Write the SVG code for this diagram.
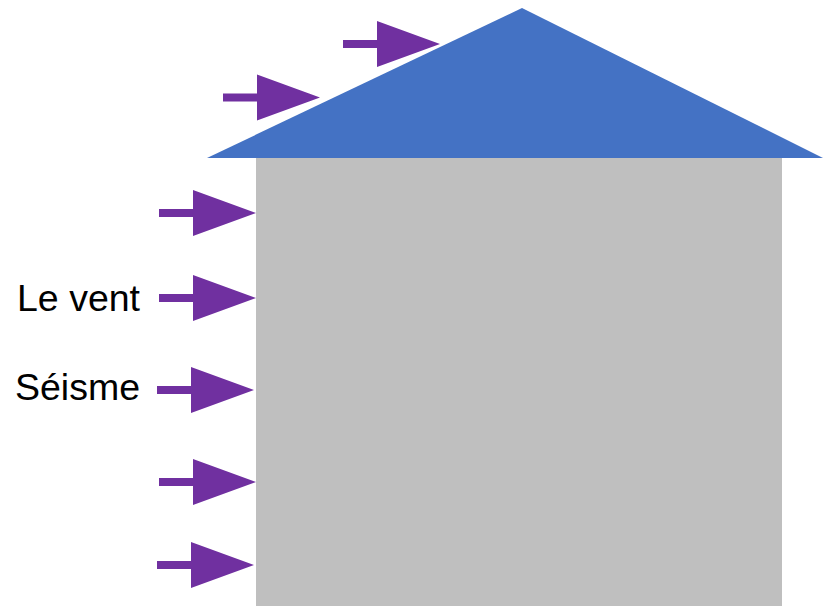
<svg xmlns="http://www.w3.org/2000/svg" xmlns:xlink="http://www.w3.org/1999/xlink" width="823" height="606" viewBox="0 0 823 606">
<style>
.arrow{fill:#7030A0}
.label{font-family:"Liberation Sans",Arial,sans-serif;font-size:37.5px;fill:#000}
</style>
<defs>
<path id="arr" d="M-97,-4 L-63,-4 L-63,-23 L0,0 L-63,23 L-63,4 L-97,4 Z"/>
</defs>
<rect width="823" height="606" fill="#fff"/>
<g id="wall"><rect x="256" y="157" width="526" height="449" fill="#BFBFBF"/></g>
<g id="roof"><polygon points="207,158 522,8 823,158" fill="#4472C4"/></g>
<g id="connectors" class="arrow">
<use xlink:href="#arr" transform="translate(256,213)"/>
<use xlink:href="#arr" transform="translate(256,298)"/>
<use xlink:href="#arr" transform="translate(254,390)"/>
<use xlink:href="#arr" transform="translate(256,482)"/>
<use xlink:href="#arr" transform="translate(254,565)"/>
<use xlink:href="#arr" transform="translate(320,97.5)"/>
<use xlink:href="#arr" transform="translate(440,44)"/>
</g>
<g id="label-vent"><text class="label" x="17" y="311">Le vent</text></g>
<g id="label-seisme"><text class="label" x="15" y="400">Séisme</text></g>
</svg>
